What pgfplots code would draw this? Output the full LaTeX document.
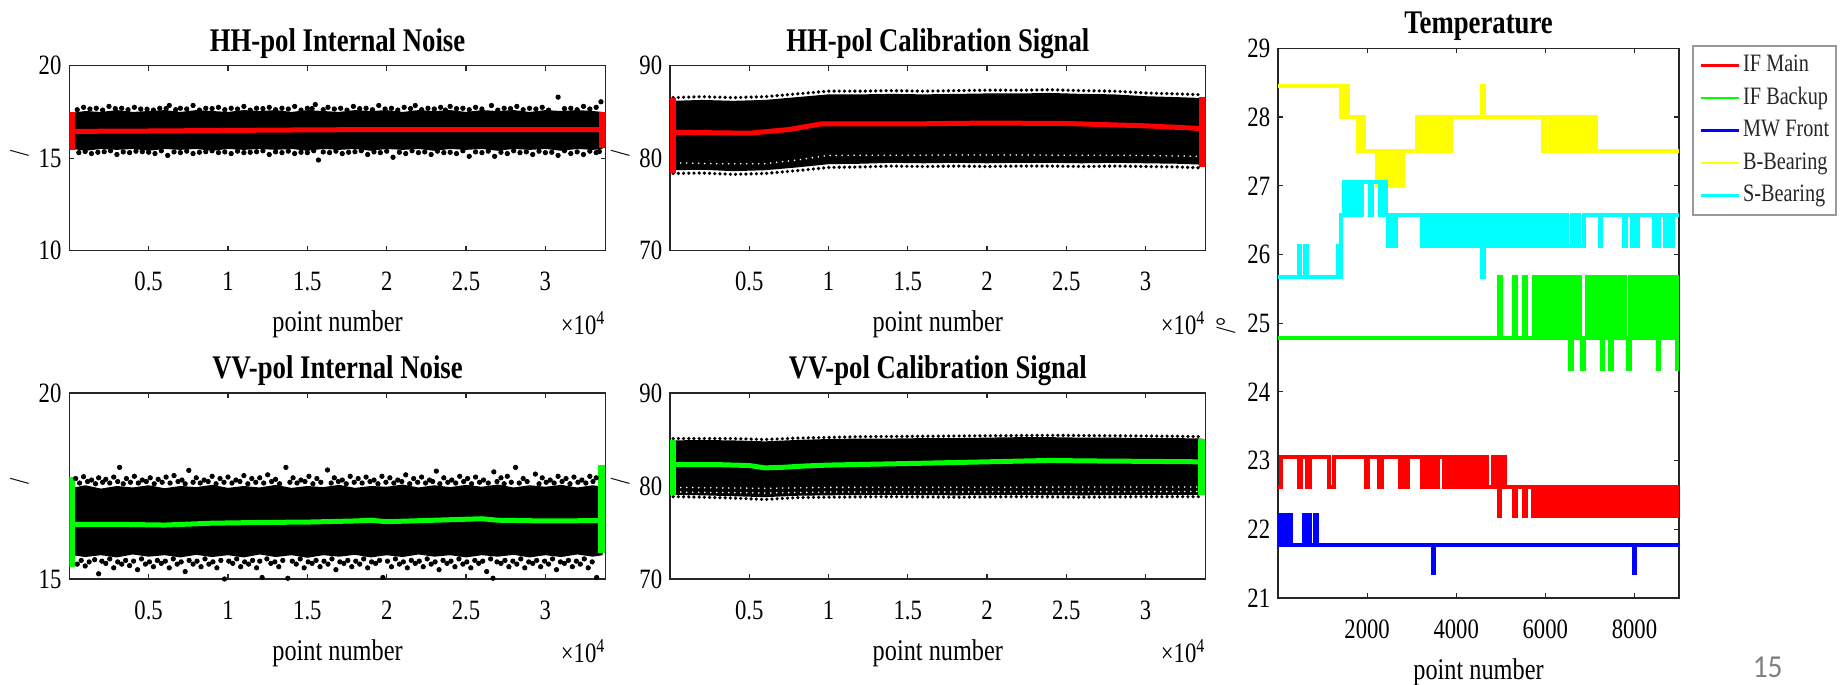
\documentclass[border=0pt]{standalone}
\usepackage{fontspec}
\setmainfont{Liberation Serif}[FakeStretch=0.81]
\newfontfamily\pagefont{Carlito}[FakeStretch=0.92]
\usepackage{pgfplots}
\pgfplotsset{compat=1.18}

\definecolor{axgray}{gray}{0.15}
\definecolor{mred}{RGB}{255,0,0}
\definecolor{mgreen}{RGB}{0,255,0}
\definecolor{mblue}{RGB}{0,0,255}
\definecolor{myellow}{RGB}{255,255,0}
\definecolor{mcyan}{RGB}{0,255,255}

\pgfplotsset{
  mlab/.style={
    scale only axis, anchor=south west,
    enlargelimits=false,
    axis line style={axgray, line width=0.6pt},
    tick style={axgray, line width=0.6pt},
    tick align=inside, major tick length=2.5pt,
    tick label style={font=\fontsize{14}{16}\selectfont, text=black},
    /pgf/number format/assume math mode=true,
    yticklabel style={anchor=east, inner sep=0pt, xshift=-3.75pt},
    xticklabel style={anchor=base, inner sep=0pt, yshift=-20pt},
    xlabel style={at={(axis description cs:0.5,0)}, anchor=base, yshift=-40.5pt, inner sep=0pt, font=\fontsize{15}{17}\selectfont},
    title style={at={(axis description cs:0.5,1)}, anchor=base, yshift=1pt, inner sep=0pt, font=\fontsize{16.5}{18}\selectfont\bfseries},
    ylabel style={font=\fontsize{14}{16}\selectfont, anchor=center, inner sep=0pt},
    scaled x ticks=false,
    xlabel={point number},
  },
  noise/.style={mlab, xmin=0, xmax=33800, xtick={5000,10000,...,30000},
    xticklabels={0.5,1,1.5,2,2.5,3}, ylabel={/},
    ylabel style={at={(axis description cs:-0.093,0.525)}}},
  band/.style={fill=black, draw=none},
  fringe/.style={only marks, mark=*, mark size=1.1pt, black},
  dotrow/.style={black, line width=1.8pt, line cap=round, dash pattern=on 0pt off 2.6pt},
  speckle/.style={white, line width=0.9pt, line cap=round, dash pattern=on 0pt off 3pt},
  endbar/.style={line width=3.5pt},
  meanline/.style={line width=2.5pt},
  temp/.style={const plot, line width=2pt, forget plot},
}
\newcommand{\xtenfour}{×10\textsuperscript{4}}

\begin{document}
\begin{tikzpicture}
\useasboundingbox (0,0) rectangle (920.5pt,342.5pt);

% ---------------- HH-pol internal noise ----------------
\begin{axis}[noise, name=a1, at={(34.65pt,217.15pt)}, width=268.2pt, height=92.5pt,
  ymin=10, ymax=20, ytick={10,15,20}, title={HH-pol Internal Noise}]
\addplot[band] coordinates {
 (200,17.45)(1000,17.55)(2000,17.5)(3000,17.6)(4000,17.5)(5000,17.55)(6000,17.6)(7000,17.5)
 (8000,17.6)(9000,17.55)(10000,17.5)(11000,17.6)(12000,17.55)(13000,17.6)(14000,17.5)(15000,17.6)
 (16000,17.55)(17000,17.5)(18000,17.6)(19000,17.55)(20000,17.6)(21000,17.5)(22000,17.6)(23000,17.55)
 (24000,17.6)(25000,17.5)(26000,17.6)(27000,17.55)(28000,17.6)(29000,17.5)(30000,17.6)(31000,17.55)
 (32000,17.6)(33000,17.55)(33600,17.5)
 (33600,15.5)(33000,15.45)(32000,15.5)(31000,15.4)(30000,15.5)(29000,15.45)(28000,15.5)(27000,15.4)
 (26000,15.5)(25000,15.45)(24000,15.5)(23000,15.4)(22000,15.5)(21000,15.45)(20000,15.5)(19000,15.4)
 (18000,15.5)(17000,15.45)(16000,15.5)(15000,15.4)(14000,15.5)(13000,15.45)(12000,15.5)(11000,15.45)
 (10000,15.5)(9000,15.4)(8000,15.5)(7000,15.45)(6000,15.5)(5000,15.4)(4000,15.5)(3000,15.45)
 (2000,15.5)(1000,15.4)(200,15.5)} -- cycle;
\addplot[fringe] coordinates {
 (900,17.75)(1700,17.7)(2500,17.8)(3300,17.7)(4100,17.75)(4900,17.65)(5700,17.7)(6300,17.85)
 (7000,17.7)(7800,17.85)(8600,17.7)(9400,17.75)(10200,17.7)(11000,17.8)(11800,17.7)(12600,17.75)
 (13400,17.7)(14200,17.8)(15000,17.7)(15500,17.9)(16300,17.75)(17100,17.7)(17900,17.8)(18700,17.7)
 (19500,17.85)(20300,17.7)(21100,17.75)(21800,17.85)(22600,17.7)(23400,17.75)(24000,17.8)(24800,17.7)
 (25600,17.75)(26600,17.85)(27400,17.7)(28200,17.8)(29000,17.7)(29800,17.75)(30800,18.3)(31600,17.7)
 (32400,17.8)(33200,17.75)(33500,18.05)
 (500,17.62)(1300,17.66)(2100,17.6)(2900,17.68)(3700,17.62)(4500,17.66)(5300,17.6)(6100,17.68)
 (6700,17.62)(7400,17.66)(8200,17.6)(9000,17.68)(9800,17.62)(10600,17.66)(11400,17.6)(12200,17.68)
 (13000,17.62)(13800,17.66)(14600,17.6)(15300,17.68)(16000,17.62)(16700,17.66)(17500,17.6)(18300,17.68)
 (19100,17.62)(19900,17.66)(20700,17.6)(21500,17.68)(22200,17.62)(23000,17.66)(23700,17.6)(24400,17.68)
 (25200,17.62)(26000,17.66)(27000,17.6)(27800,17.68)(28600,17.62)(29400,17.66)(30200,17.6)(31200,17.68)
 (32000,17.62)(32800,17.66)
 (600,15.3)(1400,15.25)(2200,15.35)(3000,15.2)(3800,15.3)(4600,15.35)(5400,15.25)(6200,15.15)
 (7000,15.3)(7800,15.25)(8600,15.35)(9400,15.3)(10200,15.25)(11000,15.3)(11800,15.35)(12600,15.2)
 (13400,15.3)(14200,15.25)(15000,15.3)(15700,14.9)(16400,15.3)(17200,15.25)(18000,15.35)(18800,15.2)
 (19600,15.3)(20400,15.05)(21200,15.25)(22000,15.3)(22800,15.2)(23600,15.3)(24400,15.25)(25200,15.1)
 (26000,15.3)(26800,15.1)(27600,15.25)(28400,15.3)(29200,15.2)(30000,15.3)(30800,15.15)(31600,15.25)
 (32400,15.2)(33200,15.3)
 (1000,15.36)(1800,15.32)(2600,15.4)(3400,15.34)(4200,15.38)(5000,15.32)(5800,15.4)(6600,15.34)
 (7400,15.38)(8200,15.32)(9000,15.4)(9800,15.34)(10600,15.38)(11400,15.32)(12200,15.4)(13000,15.34)
 (13800,15.38)(14600,15.32)(15400,15.4)(16000,15.34)(16800,15.38)(17600,15.32)(18400,15.4)(19200,15.34)
 (20000,15.38)(20800,15.32)(21600,15.4)(22400,15.34)(23200,15.38)(24000,15.32)(24800,15.4)(25600,15.34)
 (26400,15.38)(27200,15.32)(28000,15.4)(28800,15.34)(29600,15.38)(30400,15.32)(31200,15.4)(32000,15.34)
 (32800,15.38)(33400,15.36)};
\addplot[mred, meanline] coordinates {
 (300,16.45)(5000,16.47)(10000,16.5)(15000,16.53)(20000,16.55)(25000,16.55)(30000,16.55)(33600,16.55)};
\addplot[mred, endbar] coordinates {(150,15.45)(150,17.5)};
\addplot[mred, endbar] coordinates {(33600,15.55)(33600,17.5)};
\end{axis}
\node[anchor=base east, inner sep=0pt, font=\fontsize{14}{16}\selectfont] at ([yshift=-42pt]a1.south east) {\xtenfour};

% ---------------- HH-pol calibration signal ----------------
\begin{axis}[noise, name=a2, at={(335pt,217.15pt)}, width=267.85pt, height=92.5pt,
  ymin=70, ymax=90, ytick={70,80,90}, title={HH-pol Calibration Signal}]
\addplot[band] coordinates {
 (200,86.2)(2000,86.3)(4000,86.2)(6000,86.3)(8000,86.6)(10000,86.9)(12000,86.9)(14000,86.95)
 (16000,86.9)(18000,86.95)(20000,87.0)(22000,87.0)(24000,87.05)(26000,86.95)(28000,86.9)(30000,86.7)
 (32000,86.6)(33600,86.5)
 (33600,79.3)(32000,79.4)(30000,79.45)(28000,79.5)(26000,79.45)(24000,79.5)(22000,79.5)(20000,79.45)
 (18000,79.5)(16000,79.45)(14000,79.5)(12000,79.4)(10000,79.35)(8000,79.0)(6000,78.7)(4000,78.6)
 (2000,78.75)(200,78.7)} -- cycle;
\addplot[dotrow] coordinates {
 (200,86.55)(2000,86.65)(4000,86.55)(6000,86.65)(8000,86.95)(10000,87.25)(12000,87.25)(14000,87.3)
 (16000,87.25)(18000,87.3)(20000,87.35)(22000,87.35)(24000,87.4)(26000,87.3)(28000,87.25)(30000,87.05)
 (32000,86.95)(33600,86.85)};
\addplot[dotrow] coordinates {
 (200,78.35)(2000,78.4)(4000,78.25)(6000,78.35)(8000,78.65)(10000,79.0)(12000,79.05)(14000,79.15)
 (16000,79.1)(18000,79.15)(20000,79.1)(22000,79.15)(24000,79.15)(26000,79.1)(28000,79.15)(30000,79.1)
 (32000,79.05)(33600,78.95)};
\addplot[speckle] coordinates {
 (300,79.5)(3000,79.4)(6000,79.4)(8000,79.8)(10000,80.3)(20000,80.35)(30000,80.3)(33400,80.2)};
\addplot[mred, meanline] coordinates {
 (300,82.8)(5000,82.7)(7500,83.1)(9500,83.7)(15000,83.7)(20000,83.8)(25000,83.75)(30000,83.5)(33600,83.2)};
\addplot[mred, endbar] coordinates {(150,78.4)(150,86.5)};
\addplot[mred, endbar] coordinates {(33600,79.0)(33600,86.6)};
\end{axis}
\node[anchor=base east, inner sep=0pt, font=\fontsize{14}{16}\selectfont] at ([yshift=-42pt]a2.south east) {\xtenfour};

% ---------------- VV-pol internal noise ----------------
\begin{axis}[noise, name=a3, at={(34.65pt,53pt)}, width=268.2pt, height=93pt,
  ymin=15, ymax=20, ytick={15,20}, title={VV-pol Internal Noise}]
\addplot[band] coordinates {
 (200,17.45)(1000,17.52)(2000,17.43)(3000,17.5)(4000,17.46)(5000,17.52)(6000,17.44)(7000,17.5)
 (8000,17.47)(9000,17.53)(10000,17.45)(11000,17.5)(12000,17.46)(13000,17.53)(14000,17.45)(15000,17.5)
 (16000,17.47)(17000,17.53)(18000,17.45)(19000,17.5)(20000,17.48)(21000,17.54)(22000,17.46)(23000,17.52)
 (24000,17.47)(25000,17.53)(26000,17.48)(27000,17.54)(28000,17.46)(29000,17.52)(30000,17.48)(31000,17.53)
 (32000,17.46)(33000,17.52)(33600,17.48)
 (33600,15.64)(33000,15.6)(32000,15.66)(31000,15.59)(30000,15.64)(29000,15.58)(28000,15.65)(27000,15.6)
 (26000,15.64)(25000,15.58)(24000,15.64)(23000,15.6)(22000,15.66)(21000,15.59)(20000,15.64)(19000,15.58)
 (18000,15.65)(17000,15.6)(16000,15.64)(15000,15.57)(14000,15.64)(13000,15.59)(12000,15.66)(11000,15.58)
 (10000,15.64)(9000,15.59)(8000,15.65)(7000,15.58)(6000,15.64)(5000,15.6)(4000,15.66)(3000,15.58)
 (2000,15.64)(1000,15.59)(200,15.64)} -- cycle;
\addplot[fringe] coordinates {
 (400,17.7)(900,17.75)(1400,17.66)(1850,17.72)(2300,17.68)(2800,17.74)(3170,18.0)(3600,17.7)
 (4100,17.76)(4600,17.66)(5100,17.72)(5600,17.68)(6100,17.74)(6600,17.78)(7100,17.66)(7530,17.92)
 (8000,17.72)(8500,17.66)(9000,17.76)(9500,17.7)(10000,17.74)(10500,17.66)(11000,17.78)(11500,17.7)
 (12000,17.72)(12500,17.8)(13000,17.68)(13650,18.0)(14100,17.72)(14600,17.66)(15100,17.76)(15600,17.7)
 (16270,17.93)(16700,17.72)(17200,17.66)(17700,17.76)(18200,17.7)(18700,17.74)(19200,17.66)(19700,17.76)
 (20200,17.72)(20700,17.66)(21200,17.8)(21700,17.7)(22200,17.74)(22700,17.66)(23130,17.9)(23600,17.72)
 (24100,17.66)(24600,17.76)(25100,17.7)(25600,17.74)(26100,17.66)(26750,17.88)(27200,17.72)(27600,17.76)
 (28120,18.0)(28600,17.7)(29370,17.82)(29800,17.72)(30300,17.66)(30800,17.76)(31300,17.7)(31800,17.74)
 (32300,17.66)(32800,17.76)(33200,17.72)
 (650,17.58)(1150,17.62)(1650,17.56)(2100,17.6)(2550,17.58)(3050,17.62)(3400,17.56)(3850,17.6)
 (4350,17.58)(4850,17.62)(5350,17.56)(5850,17.6)(6350,17.58)(6850,17.62)(7300,17.56)(7800,17.6)
 (8250,17.58)(8750,17.62)(9250,17.56)(9750,17.6)(10250,17.58)(10750,17.62)(11250,17.56)(11750,17.6)
 (12250,17.58)(12750,17.62)(13250,17.56)(13900,17.6)(14350,17.58)(14850,17.62)(15350,17.56)(15850,17.6)
 (16500,17.58)(16950,17.62)(17450,17.56)(17950,17.6)(18450,17.58)(18950,17.62)(19450,17.56)(19950,17.6)
 (20450,17.58)(20950,17.62)(21450,17.56)(21950,17.6)(22450,17.58)(22900,17.62)(23350,17.56)(23850,17.6)
 (24350,17.58)(24850,17.62)(25350,17.56)(25850,17.6)(26400,17.58)(26950,17.62)(27400,17.56)(27850,17.6)
 (28350,17.58)(28850,17.62)(29600,17.56)(30050,17.6)(30550,17.58)(31050,17.62)(31550,17.56)(32050,17.6)
 (32550,17.58)(33000,17.62)
 (500,15.4)(1000,15.35)(1850,15.14)(2300,15.42)(2800,15.3)(3300,15.4)(3800,15.36)(4300,15.25)
 (4800,15.4)(5300,15.33)(5800,15.42)(6300,15.3)(6800,15.4)(7300,15.2)(7800,15.4)(8300,15.33)
 (8800,15.4)(9300,15.3)(9780,15.0)(10300,15.42)(10800,15.33)(11300,15.4)(11800,15.3)(12150,15.04)
 (12700,15.42)(13200,15.33)(13770,15.02)(14300,15.4)(14800,15.3)(15300,15.42)(15800,15.33)(16300,15.4)
 (16800,15.25)(17300,15.42)(17800,15.33)(18300,15.4)(18800,15.3)(19300,15.42)(19760,15.04)(20300,15.33)
 (20800,15.4)(21300,15.3)(21800,15.42)(22300,15.33)(22800,15.4)(23300,15.25)(23800,15.42)(24300,15.33)
 (24800,15.4)(25300,15.3)(25800,15.42)(26300,15.2)(26700,15.02)(27200,15.42)(27700,15.33)(28200,15.4)
 (28700,15.3)(29200,15.42)(29700,15.33)(30200,15.4)(30700,15.25)(31200,15.42)(31700,15.33)(32200,15.4)
 (32700,15.3)(33230,15.04)
 (750,15.5)(1250,15.46)(1600,15.52)(2050,15.48)(2550,15.54)(3050,15.46)(3550,15.5)(4050,15.48)
 (4550,15.54)(5050,15.46)(5550,15.5)(6050,15.48)(6550,15.54)(7050,15.46)(7550,15.5)(8050,15.48)
 (8550,15.54)(9050,15.46)(9550,15.5)(10050,15.48)(10550,15.54)(11050,15.46)(11550,15.5)(12000,15.48)
 (12450,15.54)(12950,15.46)(13450,15.5)(14050,15.48)(14550,15.54)(15050,15.46)(15550,15.5)(16050,15.48)
 (16550,15.54)(17050,15.46)(17550,15.5)(18050,15.48)(18550,15.54)(19050,15.46)(19550,15.5)(20050,15.48)
 (20550,15.54)(21050,15.46)(21550,15.5)(22050,15.48)(22550,15.54)(23050,15.46)(23550,15.5)(24050,15.48)
 (24550,15.54)(25050,15.46)(25550,15.5)(26050,15.48)(26550,15.54)(26950,15.46)(27450,15.5)(27950,15.48)
 (28450,15.54)(28950,15.46)(29450,15.5)(29950,15.48)(30450,15.54)(30950,15.46)(31450,15.5)(31950,15.48)
 (32450,15.54)(32950,15.46)};
\addplot[mgreen, meanline] coordinates {
 (250,16.47)(3000,16.47)(6000,16.45)(9000,16.5)(12000,16.52)(15000,16.53)(18000,16.56)(19000,16.58)
 (20000,16.54)(23000,16.58)(26000,16.62)(27000,16.58)(30000,16.56)(33500,16.57)};
\addplot[mgreen, endbar] coordinates {(150,15.32)(150,17.75)};
\addplot[mgreen, endbar] coordinates {(33550,15.69)(33550,18.06)};
\end{axis}
\node[anchor=base east, inner sep=0pt, font=\fontsize{14}{16}\selectfont] at ([yshift=-42pt]a3.south east) {\xtenfour};

% ---------------- VV-pol calibration signal ----------------
\begin{axis}[noise, name=a4, at={(335pt,53pt)}, width=267.85pt, height=93pt,
  ymin=70, ymax=90, ytick={70,80,90}, title={VV-pol Calibration Signal}]
\addplot[band] coordinates {
 (200,84.9)(2000,84.95)(4000,84.9)(6000,84.8)(8000,84.95)(10000,85.05)(12000,85.1)(14000,85.1)
 (16000,85.15)(18000,85.15)(20000,85.2)(22000,85.25)(24000,85.25)(26000,85.2)(28000,85.2)(30000,85.15)
 (32000,85.15)(33600,85.1)
 (33600,79.05)(30000,79.05)(26000,79.0)(22000,79.05)(18000,79.0)(14000,79.05)(10000,79.0)(8000,78.95)
 (6000,78.8)(4000,78.9)(2000,79.0)(200,79.05)} -- cycle;
\addplot[dotrow] coordinates {
 (200,85.1)(4000,85.1)(6000,85.0)(8000,85.15)(12000,85.3)(16000,85.35)(20000,85.4)(24000,85.45)
 (28000,85.4)(32000,85.35)(33600,85.3)};
\addplot[dotrow] coordinates {
 (200,78.85)(2000,78.8)(4000,78.7)(6000,78.55)(8000,78.75)(10000,78.8)(14000,78.85)(18000,78.8)
 (22000,78.85)(26000,78.8)(30000,78.85)(33600,78.85)};
\addplot[speckle] coordinates {(300,79.85)(6000,79.75)(10000,79.85)(33400,79.9)};
\addplot[speckle] coordinates {(300,79.35)(6000,79.25)(10000,79.35)(33400,79.4)};
\addplot[mgreen, meanline] coordinates {
 (250,82.3)(3000,82.3)(5000,82.2)(6000,81.95)(7000,82.0)(8500,82.15)(10000,82.25)(13000,82.35)
 (16000,82.45)(20000,82.6)(24000,82.75)(26000,82.7)(30000,82.65)(33500,82.6)};
\addplot[mgreen, endbar] coordinates {(150,79.0)(150,84.95)};
\addplot[mgreen, endbar] coordinates {(33550,79.0)(33550,85.1)};
\end{axis}
\node[anchor=base east, inner sep=0pt, font=\fontsize{14}{16}\selectfont] at ([yshift=-42pt]a4.south east) {\xtenfour};

% ---------------- Temperature ----------------
\begin{axis}[mlab, name=t, at={(639pt,43.5pt)}, width=200.5pt, height=274.85pt,
  xmin=0, xmax=9000, ymin=21, ymax=29,
  xtick={2000,4000,6000,8000}, xticklabels={2000,4000,6000,8000},
  ytick={21,22,...,29}, title={Temperature}, title style={yshift=0.5pt},
  ylabel={/°}, ylabel style={at={(axis description cs:-0.130,0.496)}},
  legend cell align=left,
  legend image code/.code={\draw[#1] (0pt,0pt) -- (19pt,0pt);},
  legend style={at={(1.0324,1.006)}, anchor=north west, draw=black!40, line width=0.8pt,
    fill=white, font=\fontsize{12.5}{14}\selectfont, text=black!85,
    inner xsep=3.5pt, inner ysep=4pt, row sep=4.75pt, column sep=1.5pt,
    nodes={inner sep=0pt, text height=9pt, text depth=2.5pt}},
]
% IF Main
\addplot[temp, mred] coordinates {
 (0,22.62)(70,23.05)(470,22.62)(515,23.05)(650,22.62)(720,23.05)(1140,22.62)(1250,23.05)
 (1980,22.62)(2030,23.05)(2275,22.62)(2340,23.05)(2740,22.62)(2800,23.05)(2850,22.62)(2915,23.05)
 (3230,22.62)(3270,23.05)(3320,22.62)(3360,23.05)(3450,22.62)(3490,23.05)(3540,22.62)(3580,23.05)
 (3715,22.62)(3760,23.05)(3800,22.62)(3840,23.05)(3880,22.62)(3940,23.05)(4000,22.62)(4060,23.05)
 (4120,22.62)(4180,23.05)(4240,22.62)(4300,23.05)(4360,22.62)(4420,23.05)(4480,22.62)(4540,23.05)
 (4600,22.62)(4660,23.05)(4700,22.62)(4830,23.05)(4870,22.62)(4890,23.05)(4920,22.62)(4950,22.2)
 (4990,22.62)(5010,23.05)(5050,22.62)(5070,23.05)(5100,22.62)(5300,22.2)(5340,22.62)(5520,22.2)
 (5560,22.62)(5715,22.2)(5760,22.62)(5780,22.2)(5820,22.62)(5890,22.2)(5950,22.62)(6010,22.2)
 (6070,22.62)(6110,22.2)(6170,22.62)(6230,22.2)(6290,22.62)(6350,22.2)(6410,22.62)(6470,22.2)
 (6530,22.62)(6590,22.2)(6650,22.62)(6710,22.2)(6770,22.62)(6830,22.2)(6890,22.62)(6940,22.2)
 (7030,22.62)(7090,22.2)(7150,22.62)(7210,22.2)(7270,22.62)(7330,22.2)(7390,22.62)(7450,22.2)
 (7510,22.62)(7570,22.2)(7630,22.62)(7690,22.2)(7750,22.62)(7810,22.2)(7870,22.62)(7930,22.2)
 (7990,22.62)(8050,22.2)(8110,22.62)(8170,22.2)(8230,22.62)(8290,22.2)(8350,22.62)(8410,22.2)
 (8470,22.62)(8530,22.2)(8590,22.62)(8650,22.2)(8710,22.62)(8770,22.2)(8830,22.62)(8890,22.2)
 (8950,22.62)(9000,22.2)};
% IF Backup
\addplot[temp, mgreen] coordinates {
 (0,24.78)(4960,25.67)(5000,24.78)(5300,25.67)(5340,24.78)(5520,25.67)(5560,24.78)(5740,25.67)
 (5780,24.78)(5800,25.67)(5860,24.78)(5920,25.67)(5980,24.78)(6040,25.67)(6100,24.78)(6160,25.67)
 (6220,24.78)(6280,25.67)(6340,24.78)(6400,25.67)(6460,24.78)(6520,25.67)(6560,24.33)(6600,25.67)
 (6660,24.78)(6720,25.67)(6780,24.78)(6830,24.33)(6870,24.78)(6940,25.67)(7000,24.78)(7060,25.67)
 (7120,24.78)(7180,25.67)(7240,24.78)(7270,24.33)(7300,25.67)(7360,24.78)(7420,25.67)(7450,24.33)
 (7490,25.67)(7550,24.78)(7610,25.67)(7670,24.78)(7730,25.67)(7790,24.78)(7850,24.33)(7890,25.67)
 (7950,24.78)(8010,25.67)(8070,24.78)(8130,25.67)(8190,24.78)(8250,25.67)(8310,24.78)(8370,25.67)
 (8430,24.78)(8490,25.67)(8520,24.33)(8560,25.67)(8620,24.78)(8680,25.67)(8740,24.78)(8800,25.67)
 (8860,24.78)(8920,25.67)(8960,24.33)(9000,24.78)};
% MW Front
\addplot[temp, mblue] coordinates {
 (0,22.21)(50,21.77)(80,22.21)(115,21.77)(205,22.21)(240,21.77)(260,22.21)(290,21.77)
 (580,22.21)(630,21.77)(670,22.21)(720,21.77)(830,22.21)(870,21.77)(3470,21.36)(3510,21.77)
 (7980,21.36)(8020,21.77)(9000,21.77)};
% B-Bearing
\addplot[temp, myellow] coordinates {
 (0,28.45)(1420,28.0)(1460,28.45)(1500,28.0)(1540,28.45)(1580,28.0)(1790,27.5)(1830,28.0)
 (1870,27.5)(1910,28.0)(1930,27.5)(2230,27.0)(2290,27.5)(2330,27.0)(2380,27.5)(2430,27.0)
 (2470,27.5)(2520,27.0)(2600,27.5)(2640,27.0)(2720,27.5)(2760,27.0)(2800,27.5)(3110,28.0)
 (3150,27.5)(3190,28.0)(3230,27.5)(3270,28.0)(3310,27.5)(3350,28.0)(3390,27.5)(3430,28.0)
 (3470,27.5)(3510,28.0)(3560,27.5)(3610,28.0)(3650,27.5)(3690,28.0)(3760,27.5)(3820,28.0)
 (3860,27.5)(3890,28.0)(4580,28.45)(4620,28.0)(5940,27.5)(6000,28.0)(6100,27.5)(6150,28.0)
 (6200,27.5)(6250,28.0)(6300,27.5)(6340,28.0)(6410,27.5)(6470,28.0)(6560,27.5)(6600,28.0)
 (6630,27.5)(6660,28.0)(6740,27.5)(6790,28.0)(6830,27.5)(6880,28.0)(6920,27.5)(6960,28.0)
 (7050,27.5)(7090,28.0)(7130,27.5)(9000,27.5)};
% S-Bearing
\addplot[temp, mcyan] coordinates {
 (0,25.67)(460,26.12)(490,25.67)(600,26.12)(640,25.67)(1340,26.12)(1380,25.67)(1420,26.57)
 (1450,26.57)(1490,27.05)(1530,26.57)(1570,27.05)(1610,26.57)(1650,27.05)(1690,26.57)(1730,27.05)
 (1770,26.57)(1810,27.05)(1850,26.57)(1890,27.05)(2060,26.57)(2100,27.05)(2280,26.57)(2380,27.05)
 (2430,26.57)(2470,26.12)(2510,26.57)(2600,26.12)(2640,26.57)(3230,26.12)(3290,26.57)(3350,26.12)
 (3420,26.57)(3480,26.12)(3540,26.57)(3600,26.12)(3660,26.57)(3720,26.12)(3780,26.57)(3840,26.12)
 (3900,26.57)(3960,26.12)(4020,26.57)(4080,26.12)(4140,26.57)(4200,26.12)(4260,26.57)(4320,26.12)
 (4380,26.57)(4440,26.12)(4500,26.57)(4580,25.67)(4620,26.57)(4680,26.12)(4740,26.57)(4800,26.12)
 (4860,26.57)(4920,26.12)(4980,26.57)(5040,26.12)(5100,26.57)(5160,26.12)(5230,26.57)(5320,26.12)
 (5380,26.57)(5440,26.12)(5500,26.57)(5560,26.12)(5620,26.57)(5700,26.12)(5800,26.57)(5880,26.12)
 (5940,26.57)(6000,26.12)(6060,26.57)(6120,26.12)(6180,26.57)(6240,26.12)(6300,26.57)(6360,26.12)
 (6420,26.57)(6480,26.12)(6600,26.57)(6650,26.12)(6700,26.57)(6760,26.12)(6870,26.57)(7220,26.12)
 (7260,26.57)(7760,26.12)(7800,26.57)(7940,26.12)(7980,26.57)(8030,26.12)(8070,26.57)(8430,26.12)
 (8470,26.57)(8520,26.12)(8560,26.57)(8690,26.12)(8730,26.57)(8790,26.12)(8870,26.57)(9000,26.57)};
\addlegendimage{mred, line width=1.2pt}\addlegendentry{IF Main}
\addlegendimage{mgreen, line width=1.2pt}\addlegendentry{IF Backup}
\addlegendimage{mblue, line width=1.2pt}\addlegendentry{MW Front}
\addlegendimage{myellow, line width=1.2pt}\addlegendentry{B-Bearing}
\addlegendimage{mcyan, line width=1.2pt}\addlegendentry{S-Bearing}
\end{axis}

\node[anchor=base east, inner sep=0pt, font=\pagefont\fontsize{16}{18}\selectfont, text=black!50] at (891.5pt,4pt) {15};
\end{tikzpicture}
\end{document}
